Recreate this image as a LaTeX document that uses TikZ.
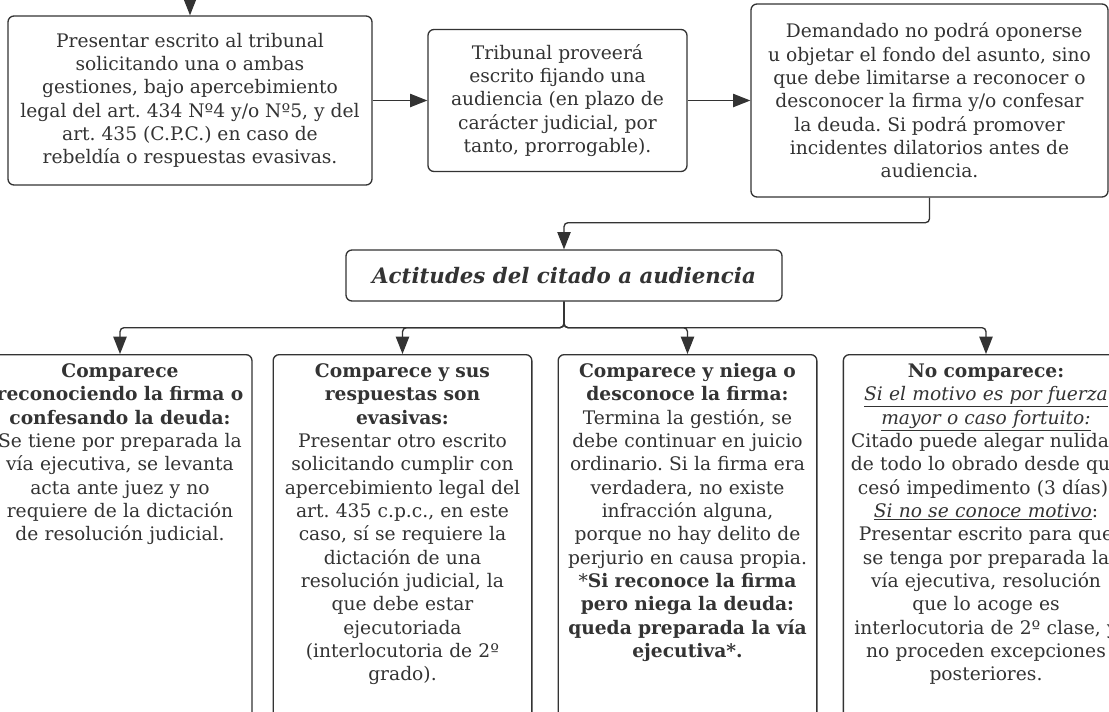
\documentclass[tikz,border=0pt]{standalone}
\usepackage{fontspec}
\setmainfont{DejaVu Serif}
\usetikzlibrary{arrows.meta}
\frenchspacing

\definecolor{ink}{HTML}{333333}
\tikzset{
    box/.style={draw=ink, line width=1pt, rounded corners=4.5pt, fill=white,
        align=center, text=ink, font=\fontsize{14}{17.5}\selectfont},
    lowbox/.style={box, anchor=north, inner xsep=2pt, inner ysep=4pt,
        text height=13pt, text depth=262pt},
    link/.style={draw=ink, line width=1pt, rounded corners=3pt}
}

\begin{document}
\begin{tikzpicture}[x=0.75pt, y=-0.75pt]
\useasboundingbox (0,0) rectangle (1109,711);
\clip (0,0) rectangle (1109,711);
\fill[white] (0,0) rectangle (1109,711);

\begin{scope}[every node/.style={box}]
    \node[minimum width=273pt, minimum height=126.75pt] (escrito) at (190,100.5)
        {Presentar escrito al tribunal\\ solicitando una o ambas\\ gestiones, bajo apercebimiento\\
         legal del art. 434 Nº4 y/o Nº5, y del\\ art. 435 (C.P.C.) en caso de\\ rebeldía o respuestas evasivas.};
    \node[minimum width=194.25pt, minimum height=106.5pt] (proveer) at (557.5,100.5)
        {Tribunal proveerá\\ escrito fijando una\\ audiencia (en plazo de\\ carácter judicial, por\\ tanto, prorrogable).};
    \node[minimum width=267.75pt, minimum height=144.75pt] (demandado) at (929.5,100.5)
        {\hspace*{0.5em}Demandado no podrá oponerse\\ u objetar el fondo del asunto, sino\\ que debe limitarse a reconocer o\\
         desconocer la firma y/o confesar\\ la deuda. Si podrá promover\\ incidentes dilatorios antes de\\ audiencia.};
    \node[minimum width=327pt, minimum height=38.25pt, font=\fontsize{16}{19}\selectfont\bfseries\itshape] (actitudes) at (564,275.5)
        {Actitudes del citado a audiencia};

    \node[lowbox, text width=194pt] (comp1) at (120,354)
        {\textbf{Comparece}\\ \textbf{reconociendo la firma o}\\ \textbf{confesando la deuda:}\\
         Se tiene por preparada la\\ vía ejecutiva, se levanta\\ acta ante juez y no\\
         requiere de la dictación\\ de resolución judicial.};
    \node[lowbox, text width=190pt] (comp2) at (402.5,354)
        {\textbf{Comparece y sus}\\ \textbf{respuestas son}\\ \textbf{evasivas:}\\
         Presentar otro escrito\\ solicitando cumplir con\\ apercebimiento legal del\\
         art. 435 c.p.c., en este\\ caso, sí se requiere la\\ dictación de una\\
         resolución judicial, la\\ que debe estar\\ ejecutoriada\\ (interlocutoria de 2º\\ grado).};
    \node[lowbox, text width=190pt] (comp3) at (687.5,354)
        {\textbf{Comparece y niega o}\\ \textbf{desconoce la firma:}\\
         Termina la gestión, se\\ debe continuar en juicio\\ ordinario. Si la firma era\\
         verdadera, no existe\\ infracción alguna,\\ porque no hay delito de\\
         perjurio en causa propia.\\ {*}\textbf{Si reconoce la firma}\\ \textbf{pero niega la deuda:}\\
         \textbf{queda preparada la vía}\\ \textbf{ejecutiva*.}};
    \node[lowbox, text width=210pt] (comp4) at (986,354)
        {\textbf{No comparece:}\\ \underline{\textit{Si el motivo es por fuerza}}\\ \underline{\textit{mayor o caso fortuito:}}\\
         Citado puede alegar nulidad\\ de todo lo obrado desde que\\ cesó impedimento (3 días).\\
         \underline{\textit{Si no se conoce motivo}}:\\ Presentar escrito para que\\ se tenga por preparada la\\
         vía ejecutiva, resolución\\ que lo acoge es\\ interlocutoria de 2º clase, y\\
         no proceden excepciones\\ posteriores.};
\end{scope}

\coordinate (start) at (190,0);

\begin{scope}[>={Triangle[length=13pt,width=10pt]},
              every edge/.style={link}]
    \path [->] (start) edge (escrito);
    \path [->] (escrito.east) edge (proveer.west);
    \path [->] (proveer.east) edge (demandado.west);

    \draw [->, link] (demandado.south) -- ++(0,25) -| (actitudes.north);
    \foreach \c in {comp1,comp2,comp3,comp4}
        \draw [->, link] (actitudes.south) -- ++(0,26) -| (\c.north);
\end{scope}
\end{tikzpicture}
\end{document}
